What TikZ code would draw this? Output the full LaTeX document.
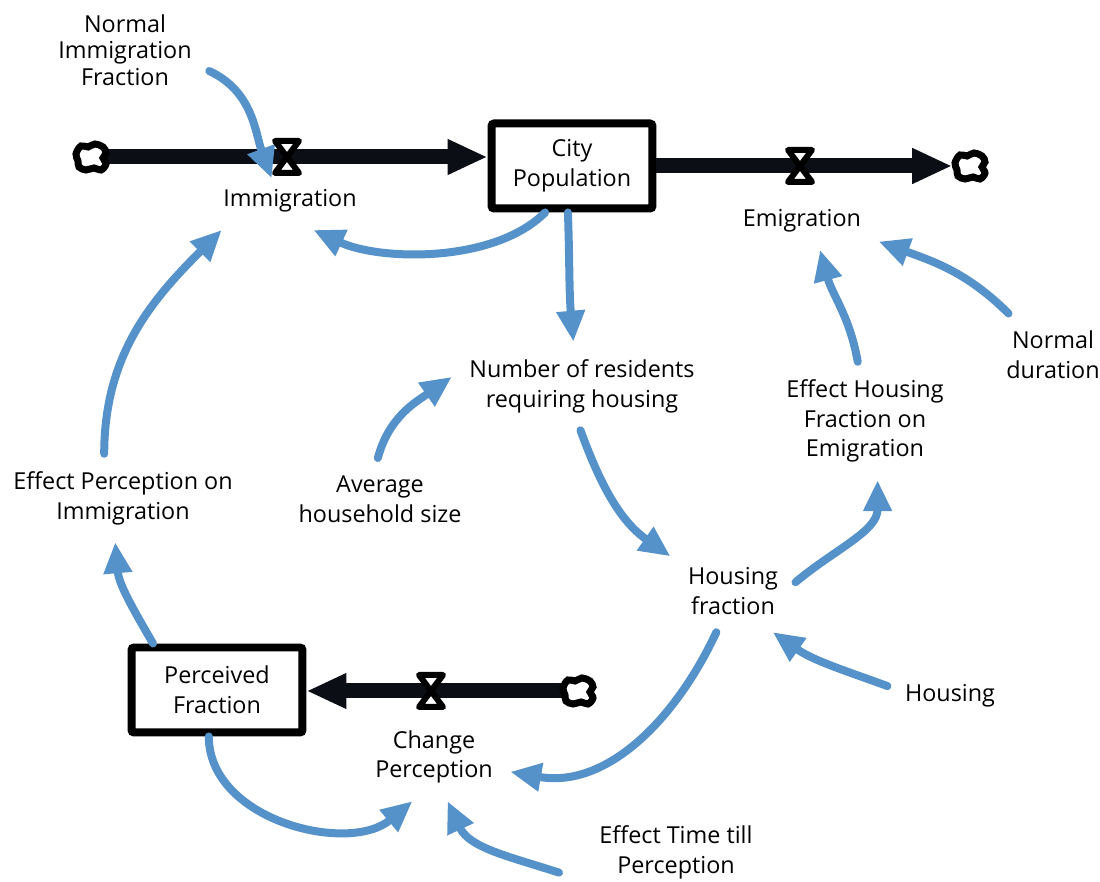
\documentclass[tikz,border=0pt]{standalone}
\usepackage{fontspec}
\setmainfont{Open Sans}
\usetikzlibrary{arrows.meta}
\definecolor{linkblue}{RGB}{86, 146, 202}
\definecolor{pipeblack}{RGB}{11, 14, 21}

\begin{document}
\begin{tikzpicture}[
    x=0.02cm, y=0.02cm,
    var/.style={
        align=center,
        font=\fontsize{13.3}{17}\selectfont,
        inner sep=1pt,
        outer sep=9pt
    },
    stock/.style={
        draw=black,
        fill=white,
        line width=0.16cm,
        rounded corners=1.5pt,
        align=center,
        font=\fontsize{13.3}{17}\selectfont,
        minimum height=1.7cm
    },
    valvebox/.style={inner sep=0pt, minimum width=0.6cm, minimum height=0.84cm},
    cloudbox/.style={inner sep=0pt, minimum width=0.7cm, minimum height=0.6cm},
    pipe/.style={line width=0.3cm, draw=pipeblack, -{Triangle[length=0.8cm, width=0.66cm]}},
    link/.style={line width=0.16cm, draw=linkblue, line cap=round, -{Triangle[length=0.62cm, width=0.54cm]}},
    hourglass/.pic={
        \draw[line width=0.12cm, line join=round, fill=white]
            (-12,16) -- (12,16) -- (-12,-16) -- (12,-16) -- cycle;
    },
    blob/.pic={
        \draw[line width=0.14cm, fill=white] plot[smooth cycle, tension=0.6]
            coordinates {(-15,3) (-10,11) (-3,10) (4,13) (12,10) (15,4) (12,-1) (15,-7) (10,-13) (3,-11) (-5,-13) (-12,-10) (-13,-4)};
    }
]
\useasboundingbox (0,0) rectangle (1100,882);

% stocks
\node[stock, minimum width=3.22cm] (citypop) at (572,716) {City\\Population};
\node[stock, minimum width=3.42cm] (percfrac) at (217,192) {Perceived\\Fraction};

% valves and clouds
\node[valvebox] (vin) at (287,725) {};
\node[valvebox] (vout) at (800,716) {};
\node[valvebox] (vperc) at (431,191) {};
\node[cloudbox] (srcin) at (91,725) {};
\node[cloudbox] (sinkout) at (970,716) {};
\node[cloudbox] (srcperc) at (578,191) {};

% variables
\node[var, font=\fontsize{13.3}{15}\selectfont] (normimm) at (125,832) {Normal\\Immigration\\Fraction};
\node[var] (immig) at (290,681) {Immigration};
\node[var] (emig) at (802,661) {Emigration};
\node[var] (residents) at (582,496) {Number of residents\\requiring housing};
\node[var] (avghh) at (380,383) {Average\\household size};
\node[var] (effperc) at (123,384) {Effect Perception on\\Immigration};
\node[var] (effhouse) at (865,461) {Effect Housing\\Fraction on\\Emigration};
\node[var] (normdur) at (1053,527) {Normal\\duration};
\node[var] (housfrac) at (733,291) {Housing\\fraction};
\node[var] (housing) at (950,186) {Housing};
\node[var] (changeperc) at (434,125) {Change\\Perception};
\node[var, outer xsep=22pt] (efftime) at (676,30) {Effect Time till\\Perception};

% flows
\draw[pipe] (srcin.center) -- (srcin.center -| citypop.west);
\draw[pipe] (citypop.east) -- (sinkout);
\draw[pipe] (srcperc.center) -- (srcperc.center -| percfrac.east);

% links
\draw[link] (normimm.-14) to[out=-25,in=110] (vin.south west);
\draw[link] (citypop.-120) to[out=-135,in=-25, looseness=0.8] (immig.-51);
\draw[link] (citypop.-95) to[out=-88,in=95] (residents.101);
\draw[link] (avghh.93) to[out=75,in=-145] (residents.176);
\draw[link] (residents.-92) to[out=-70,in=145] (housfrac.151);
\draw[link] (housfrac.8) to[out=40,in=-90] (effhouse.-78);
\draw[link] (effhouse.97) to[out=100,in=-75] (emig.-58);
\draw[link] (normdur.137) to[out=135,in=-20] (emig.-15);
\draw[link] (housing.171) to[out=160,in=-35] (housfrac.-46);
\draw[link] (housfrac.-112) to[out=-115,in=-10] (changeperc.-11);
\draw[link] (percfrac.-100) to[out=-90,in=-140] (changeperc.-116);
\draw[link] (efftime.-170) to[out=162,in=-65] (changeperc.-73);
\draw[link] (percfrac.144) to[out=120,in=-85] (effperc.-100);
\draw[link] (effperc.113) to[out=90,in=-135] (immig.-157);

% valve and cloud glyphs on top
\pic at (vin) {hourglass};
\pic at (vout) {hourglass};
\pic at (vperc) {hourglass};
\pic at (srcin) {blob};
\pic at (sinkout) {blob};
\pic at (srcperc) {blob};

\end{tikzpicture}
\end{document}
